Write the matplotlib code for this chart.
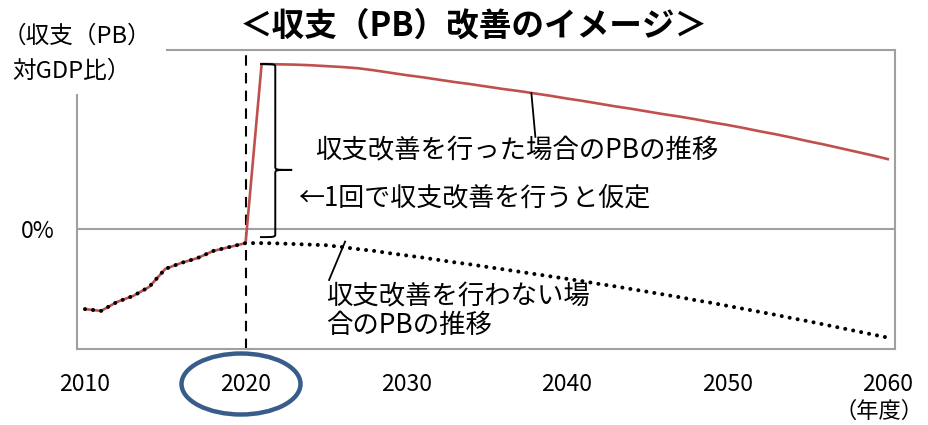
#!/usr/bin/env python3
"""
PB improvement image chart (収支（PB）改善のイメージ).
"""
import numpy as np
from matplotlib import pyplot as plt
from matplotlib.patches import Ellipse, Rectangle, PathPatch
from matplotlib.path import Path

plt.rcParams['font.family'] = ['Noto Sans CJK JP', 'DejaVu Sans']

# fiscal years
years = np.arange(2010, 2061)

# PB, % of GDP (common actual part 2010-2020)
pb_actual = [-2.67, -2.73, -2.43, -2.23, -1.93, -1.33, -1.13, -0.97, -0.73, -0.60, -0.47]

# with one-off improvement, 2021-2060
pb_improved = [5.50, 5.49, 5.48, 5.46, 5.43, 5.40, 5.36, 5.29, 5.21, 5.13,
               5.06, 4.98, 4.90, 4.83, 4.75, 4.67, 4.60, 4.52, 4.44, 4.35,
               4.27, 4.18, 4.09, 4.01, 3.92, 3.83, 3.75, 3.66, 3.56, 3.47,
               3.37, 3.26, 3.16, 3.05, 2.93, 2.82, 2.70, 2.58, 2.46, 2.33]

# without improvement, 2021-2060
pb_none = [-0.47, -0.48, -0.50, -0.52, -0.54, -0.60, -0.67, -0.73, -0.81, -0.88,
           -0.95, -1.03, -1.11, -1.18, -1.26, -1.34, -1.42, -1.50, -1.58, -1.66,
           -1.74, -1.83, -1.91, -2.00, -2.09, -2.18, -2.27, -2.37, -2.46, -2.56,
           -2.66, -2.76, -2.86, -2.97, -3.07, -3.18, -3.29, -3.40, -3.51, -3.62]

xticks = [2010, 2020, 2030, 2040, 2050, 2060]

red = '#C0504D'
gray = '#A0A0A0'

fig = plt.figure(figsize=(9.29, 4.25), dpi=100)
ax = fig.add_axes([77 / 929, 1 - 349 / 425, 818 / 929, 299 / 425])

ax.plot(years, pb_actual + pb_improved, color=red, lw=1.9, zorder=3)
ax.plot(years, pb_actual + pb_none, color='black', lw=2.9,
        linestyle=(0, (0.01, 2.0)), dash_capstyle='round', zorder=4)

ax.axhline(0, color=gray, lw=1.5, zorder=1)
ax.axvline(2020, color='black', lw=1.5, linestyle=(0, (5, 3.5)), zorder=2)

ax.set_xlim(2009.5, 2060.45)
ax.set_ylim(-4.0, 5.967)
ax.set_xticks(xticks)
ax.set_xticklabels([str(y) for y in xticks], fontsize=16.5)
ax.set_yticks([0])
ax.set_yticklabels(['0%'], fontsize=16.5)
ax.tick_params(axis='x', length=0, pad=17)
ax.tick_params(axis='y', length=0, pad=16)
for s in ax.spines.values():
    s.set_color(gray)
    s.set_linewidth(1.5)

# curly brace from the improved line down to 0%
xl, xc, xt = 2020.9, 2021.85, 2022.9
yt, yb, ym, r = 5.50, -0.27, 1.97, 0.12
verts = [(xl, yt), (xc, yt), (xc, yt), (xc, yt - r),
         (xc, ym + r),
         (xc, ym), (xc, ym), (xt, ym),
         (xc, ym), (xc, ym), (xc, ym - r),
         (xc, yb + r),
         (xc, yb), (xc, yb), (xl, yb)]
codes = [Path.MOVETO, Path.CURVE4, Path.CURVE4, Path.CURVE4,
         Path.LINETO,
         Path.CURVE4, Path.CURVE4, Path.CURVE4,
         Path.CURVE4, Path.CURVE4, Path.CURVE4,
         Path.LINETO,
         Path.CURVE4, Path.CURVE4, Path.CURVE4]
ax.add_patch(PathPatch(Path(verts, codes), fill=False, lw=1.4, color='black', zorder=5))

# leader lines
ax.plot([2037.8, 2038.05], [4.53, 3.07], color='black', lw=1.3, zorder=5)
ax.plot([2026.2, 2025.2], [-0.42, -1.70], color='black', lw=1.3, zorder=5)

ax.text(2024.3, 2.62, '収支改善を行った場合のPBの推移', fontsize=19, va='center', zorder=6)
ax.text(2023.3, 1.03, '←1回で収支改善を行うと仮定', fontsize=18.7, va='center', zorder=6)
ax.text(2025.0, -2.27, '収支改善を行わない場', fontsize=19, va='center', zorder=6)
ax.text(2025.0, -3.2, '合のPBの推移', fontsize=19, va='center', zorder=6)

# white box over the top-left corner, y-axis title on it
fig.add_artist(Rectangle((0, 1 - 94 / 425), 166 / 929, 94 / 425,
                         transform=fig.transFigure, facecolor='white',
                         edgecolor='none', zorder=2))
fig.text(3 / 929, 1 - 36 / 425, '（収支（PB）', fontsize=17, va='center', zorder=3)
fig.text(12 / 929, 1 - 71 / 425, '対GDP比）', fontsize=17, va='center', zorder=3)

fig.text(474 / 929, 1 - 26 / 425, '＜収支（PB）改善のイメージ＞', fontsize=23.5,
         fontweight='bold', ha='center', va='center')
fig.text(924 / 929, 1 - 411 / 425, '（年度）', fontsize=16, ha='right', va='center')

fig.add_artist(Ellipse((241 / 929, 1 - 384 / 425), 119 / 929, 61 / 425,
                       transform=fig.transFigure, fill=False,
                       edgecolor='#385D8A', lw=3.2))

fig.savefig('out.png', dpi=100)
